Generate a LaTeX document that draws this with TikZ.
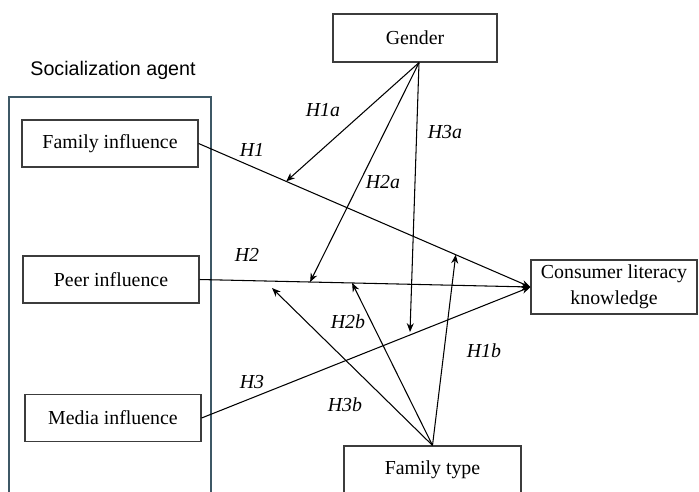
\documentclass[tikz,border=0pt]{standalone}
\usepackage{fontspec}
\setmainfont{Liberation Serif}
\setsansfont{Liberation Sans}
\usetikzlibrary{arrows.meta,positioning}
\definecolor{socline}{RGB}{62,88,102}
\definecolor{boxline}{RGB}{60,60,60}
\tikzset{
  varbox/.style={rectangle, draw=boxline, line width=0.7pt, minimum width=3.52cm, minimum height=0.94cm, inner sep=2pt, align=center, font=\fontsize{11.3}{14.6}\selectfont},
  hyp/.style={font=\fontsize{11.3}{13}\selectfont\itshape},
  path/.style={line width=0.6pt, -{Stealth[length=5pt, width=4pt]}},
}

\begin{document}
\begin{tikzpicture}[x=0.02cm, y=-0.02cm]
  \useasboundingbox (0,0) rectangle (699,491);
  \clip (0,0) rectangle (699,491);

  % --- Socialization agent group ---
  \node[font=\sffamily\fontsize{11.2}{13}\selectfont] (soclabel) at (113,70) {Socialization agent};
  \draw[socline, line width=0.7pt] (9,520) -- (9,97) -- (211,97) -- (211,520);

  \node[varbox] (fam) at (110,143.5) {Family influence};
  \node[varbox] (peer) at (111,279.5) {Peer influence};
  \node[varbox] (media) at (113,418) {Media influence};

  % --- Moderators and outcome ---
  \node[varbox, minimum width=3.28cm, minimum height=0.96cm] (gender) at (415,38) {Gender};
  \node[varbox, minimum width=3.54cm, minimum height=0.96cm] (ftype) at (432.5,470) {Family type};
  \node[varbox, minimum width=3.32cm, minimum height=1.08cm] (cons) at (614,287) {Consumer literacy\\knowledge};
  \coordinate (gbot) at ([xshift=0.08cm]gender.south);

  % Direct paths
  \draw[path] (fam.east) -- coordinate[pos=0.264] (h1a) coordinate[pos=0.775] (h1b) (cons.west);
  \draw[path] (peer.east) -- coordinate[pos=0.334] (h2a) coordinate[pos=0.461] (h2b) (cons.west);
  \draw[path] (media.east) -- (cons.west);

  % Moderating paths
  \coordinate (h3a) at (410,332);
  \coordinate (h3b) at (272,288);
  \draw[path] (gbot) -- (h1a);
  \draw[path] (gbot) -- (h2a);
  \draw[path] (gbot) -- (h3a);
  \draw[path] (ftype.north) -- (h1b);
  \draw[path] (ftype.north) -- (h2b);
  \draw[path] (ftype.north) -- (h3b);

  % Labels
  \node[hyp] (lH1) at (252,150) {H1};
  \node[hyp] (lH2) at (247,255) {H2};
  \node[hyp] (lH3) at (252,382) {H3};
  \node[hyp] (lH1a) at (323,110) {H1a};
  \node[hyp] (lH2a) at (383,182) {H2a};
  \node[hyp] (lH3a) at (445,132) {H3a};
  \node[hyp] (lH1b) at (484,351) {H1b};
  \node[hyp] (lH2b) at (348,322) {H2b};
  \node[hyp] (lH3b) at (345,405) {H3b};
\end{tikzpicture}
\end{document}
